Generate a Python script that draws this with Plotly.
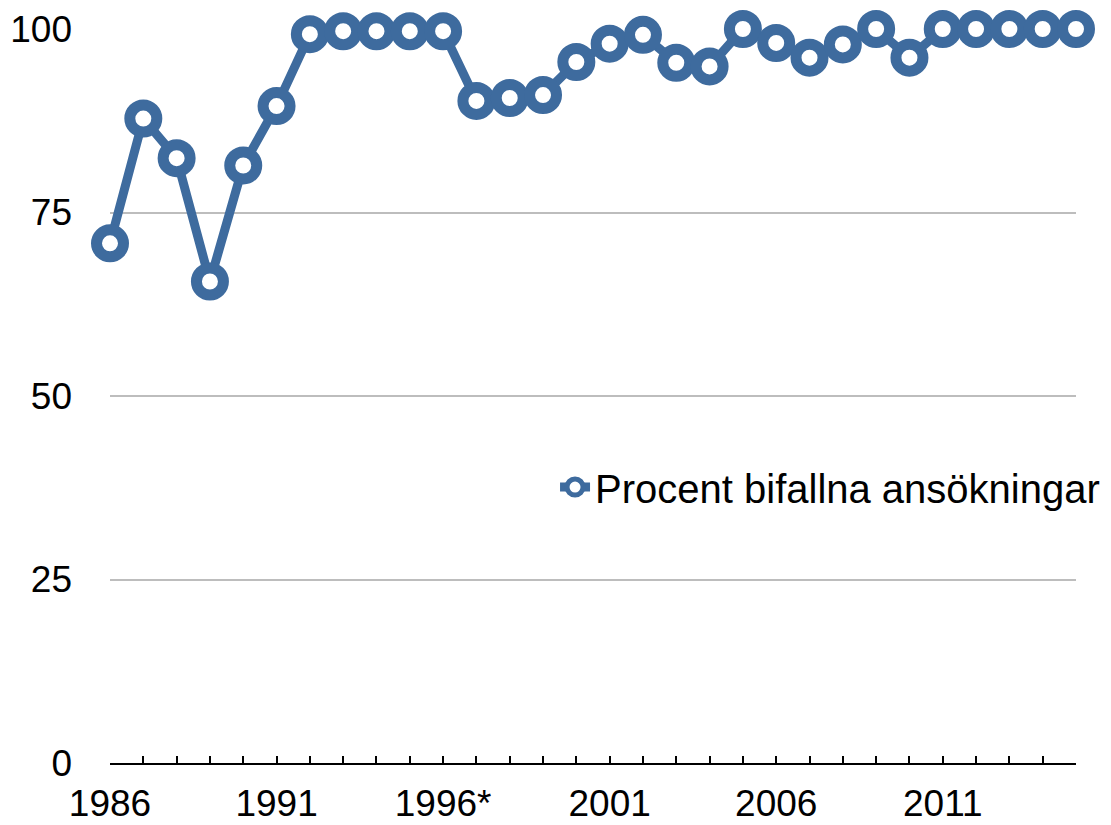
import plotly.graph_objects as go

years = list(range(1986, 2016))
values = [70.8, 87.8, 82.4, 65.6, 81.4, 89.5, 99.3, 99.7, 99.7, 99.7,
          99.7, 90.2, 90.6, 91.0, 95.5, 98.0, 99.2, 95.4, 94.9, 100.0,
          98.1, 96.1, 97.9, 100.0, 96.1, 100.0, 100.0, 100.0, 100.0, 100.0]
tick_labels = {1986: "1986", 1991: "1991", 1996: "1996*", 2001: "2001", 2006: "2006", 2011: "2011"}
y_ticks = [0, 25, 50, 75, 100]
series_name = "Procent bifallna ansökningar"

color = "#3e6b9e"
font_family = "Liberation Sans, Arial, Helvetica, sans-serif"

fig = go.Figure()
fig.add_trace(go.Scatter(
    x=years, y=values, mode="lines+markers", name=series_name,
    line=dict(color=color, width=9),
    marker=dict(symbol="circle", size=27, color="white", line=dict(color=color, width=11)),
    cliponaxis=False,
))

# page body has an 8px default margin, so the figure is 8px smaller
fig.update_layout(
    width=1103, height=817,
    margin=dict(l=102, r=35, t=21, b=62, autoexpand=False),
    plot_bgcolor="white", paper_bgcolor="white",
    font=dict(family=font_family, size=37, color="black"),
    showlegend=True,
    legend=dict(x=0.4607, y=0.376, xanchor="left", yanchor="middle",
                font=dict(size=40), bgcolor="rgba(0,0,0,0)"),
    xaxis=dict(
        range=[1986, 2015],
        tickvals=years,
        ticktext=[tick_labels.get(y, "") for y in years],
        ticks="inside", ticklen=7, tickwidth=2, tickcolor="black",
        showline=True, linecolor="black", linewidth=2,
        showgrid=False, zeroline=False,
        ticklabelstandoff=7,
    ),
    yaxis=dict(
        range=[0, 100],
        tickvals=y_ticks,
        showgrid=True, gridcolor="#bdbdbd", gridwidth=2,
        zeroline=False, showline=False,
        ticklabelstandoff=37,
    ),
)

fig.write_html("out.html")
